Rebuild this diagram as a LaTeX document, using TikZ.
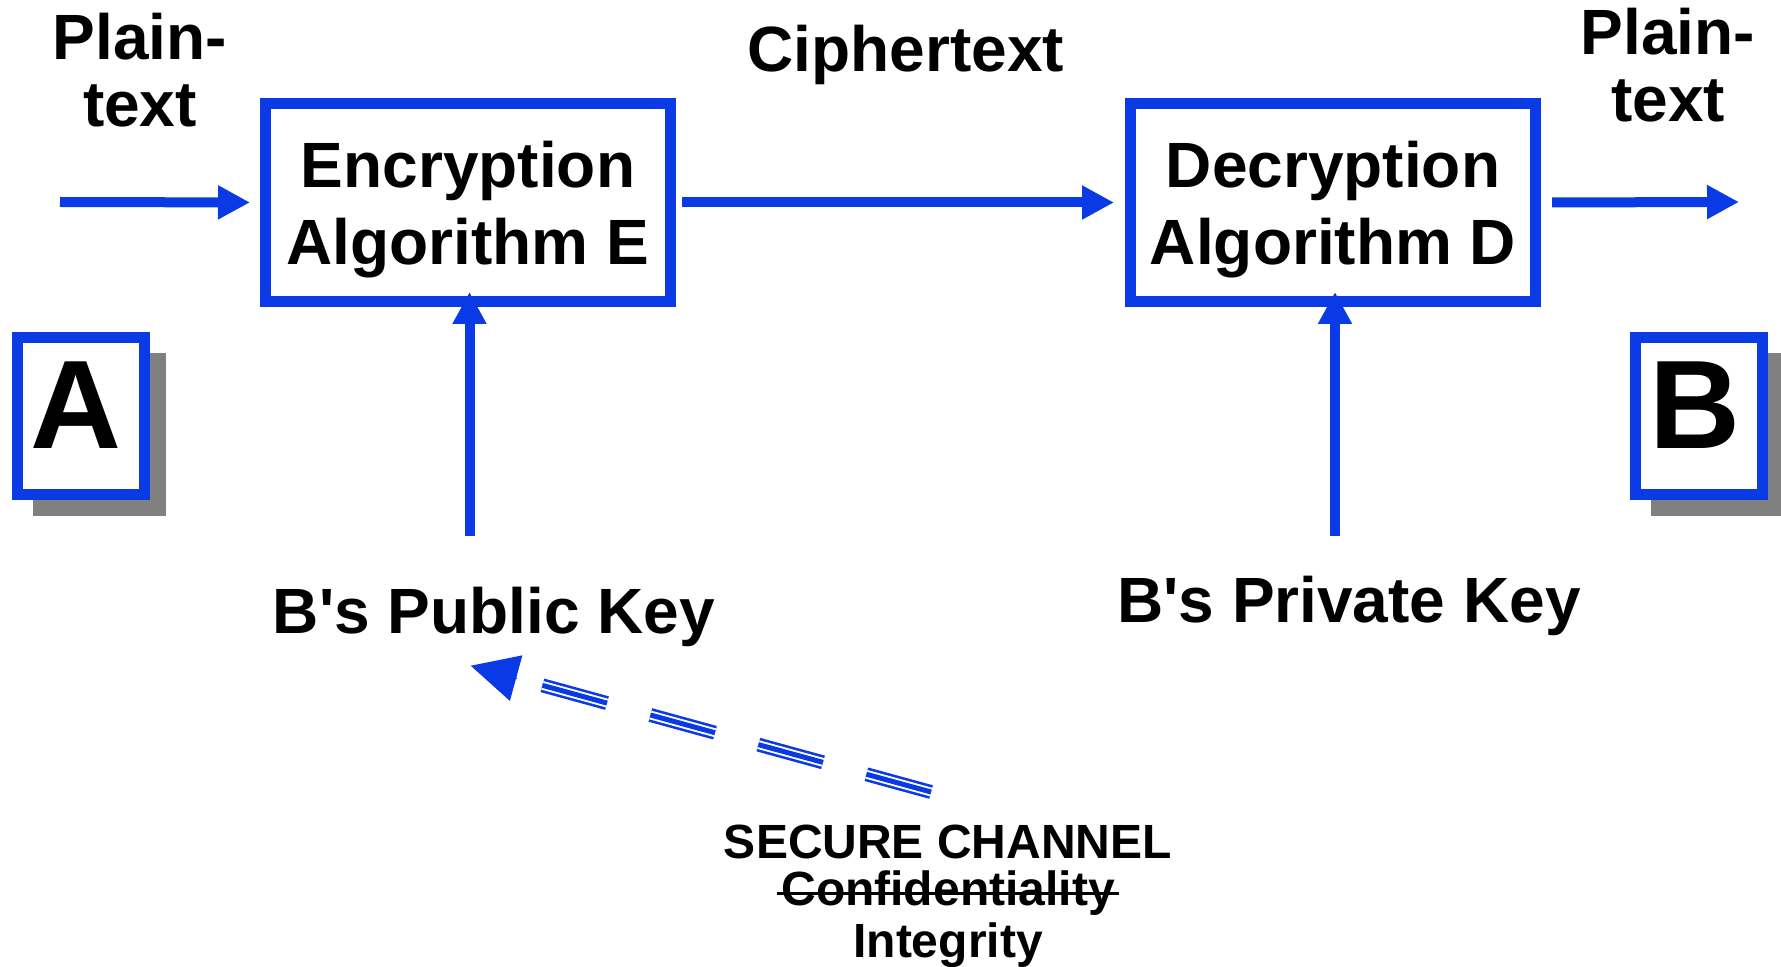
\documentclass[tikz,border=0pt]{standalone}
\usepackage{fontspec}
\newfontfamily\af{Liberation Sans}
\usetikzlibrary{arrows.meta,calc,backgrounds}
\definecolor{bl}{RGB}{10,58,230}
\definecolor{shd}{RGB}{128,128,128}
\begin{document}
\begin{tikzpicture}[x=0.5pt,y=-0.5pt,
  algbox/.style={draw=bl, line width=5.25pt, fill=white, minimum width=202.5pt, minimum height=99pt, inner sep=0pt, outer sep=0pt, align=center, text depth=-1pt, font=\af\bfseries\fontsize{32}{38.5}\selectfont},
  party/.style={draw=bl, line width=5.35pt, fill=white, inner sep=0pt, outer sep=0pt, minimum width=63.5pt, minimum height=78.6pt, font=\af\bfseries\fontsize{63}{63}\selectfont, text depth=11pt},
  lbl/.style={inner sep=0pt, anchor=base, align=center, font=\af\bfseries\fontsize{32}{33.5}\selectfont},
  flow/.style={draw=bl, line width=5pt, -{Triangle[length=16pt,width=16pt]}},
  small/.style={inner sep=0pt, anchor=base, font=\af\bfseries\fontsize{24}{25}\selectfont},
  chan/.style={dash pattern=on 33.5pt off 22.5pt, shorten >=23.5pt},
]
\useasboundingbox (0,0) rectangle (1781,967);

% boxes
\node[algbox] (enc) at (468,202.5) {Encryption\\Algorithm E};
\node[algbox] (dec) at (1333,202.5) {Decryption\\Algorithm D};
\node[party] (A) at (80.7,416) {\hspace*{-5pt}A};
\node[party] (B) at (1698.7,416) {\hspace*{-4pt}B};

\begin{scope}[on background layer]
\fill[shd] ([shift={(16,16)}]A.north west) rectangle ([shift={(21.35,21.35)}]A.south east);
\fill[shd] ([shift={(16,16)}]B.north west) rectangle ([shift={(21.35,21.35)}]B.south east);
\end{scope}

% labels
\node[lbl] (ptL) at (140,127) {Plain-\\text};
\node[lbl] (ptR) at (1668,122) {Plain-\\text};
\node[lbl] (ct) at (906,72) {Ciphertext};
\node[lbl] (pub) at (494,633) {B's Public Key};
\node[lbl] (prv) at (1349,622.5) {B's Private Key};

\node[small] (sc) at (948,858) {SECURE CHANNEL};
\node[small] (conf) at (948,905) {Confidentiality};
\node[small] (integ) at (948,957.5) {Integrity};
\draw[line width=1.3pt] ([shift={(-2pt,5.8pt)}]conf.base west) -- ([shift={(2pt,5.8pt)}]conf.base east);

% flow arrows
\coordinate (inL) at (60,202);
\coordinate (outR) at (1739,202);
\draw[flow, shorten >=7.75pt] (inL) -- (enc.west);
\draw[flow, shorten <=5.75pt, shorten >=8.25pt] (enc.east) -- (dec.west);
\draw[flow, shorten <=8.25pt] (dec.east) -- (outR);
\coordinate (encK) at (469.5,536);
\coordinate (decK) at (1335,536);
\draw[flow, shorten >=-4.75pt] (encK) -- (encK |- enc.south);
\draw[flow, shorten >=-4.75pt] (decK) -- (decK |- dec.south);

% secure channel
\coordinate (chS) at (931,792);
\coordinate (chE) at (470.8,665.7);
\draw[chan, line width=7pt, draw=bl] (chS) -- (chE);
\draw[chan, line width=4.4pt, draw=white] (chS) -- (chE);
\draw[chan, line width=2.5pt, draw=bl] (chS) -- (chE);
\draw[bl, line width=0.5pt, -{Triangle[length=23.5pt,width=23.5pt]}] ($(chE)!24pt!(chS)$) -- (chE);
\end{tikzpicture}
\end{document}
